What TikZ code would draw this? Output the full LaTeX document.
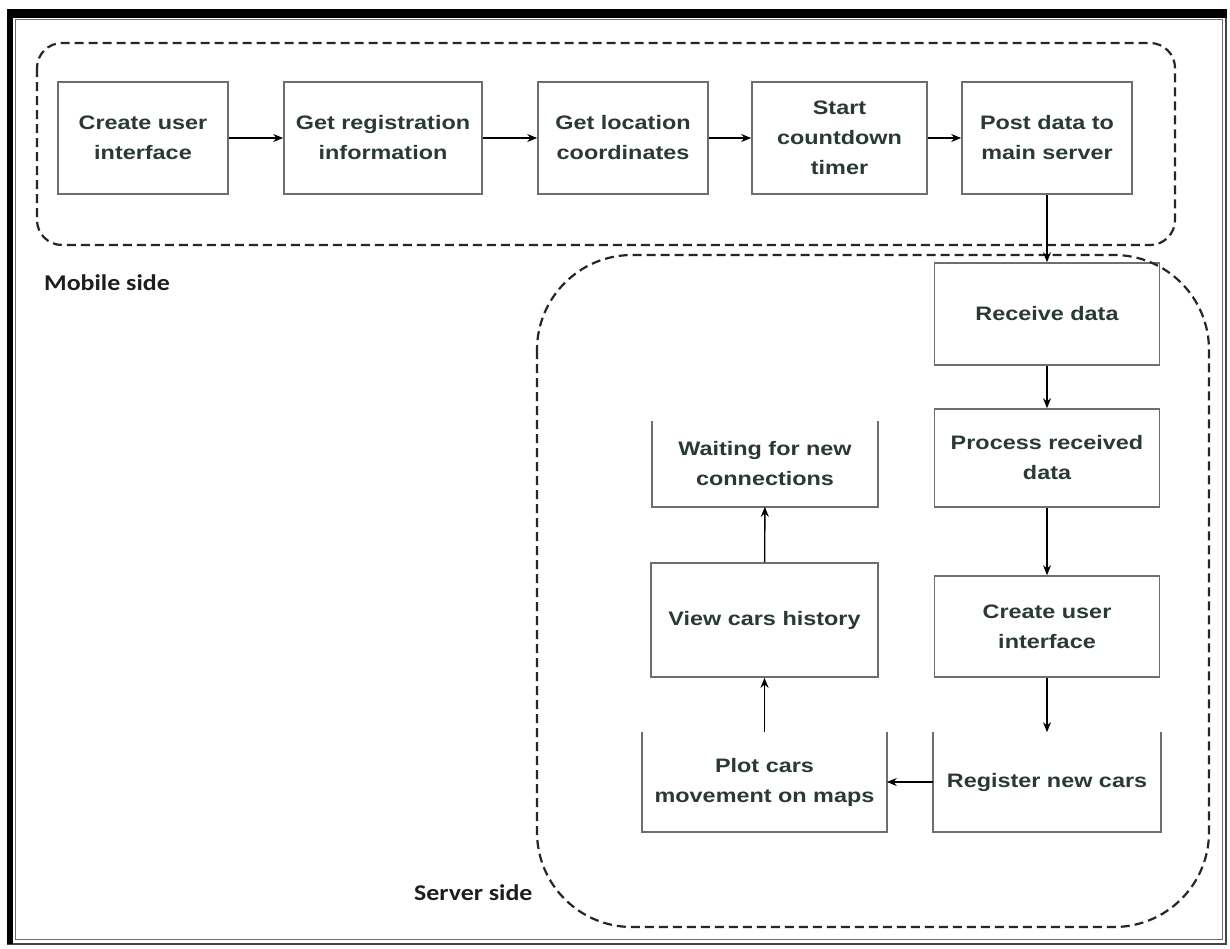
\documentclass[tikz,border=0pt]{standalone}
\usepackage{fontspec}
\setmainfont[FakeStretch=1.2]{Liberation Sans}
\newfontfamily\sidefont[FakeStretch=1.15]{Carlito}
\usetikzlibrary{arrows.meta}

\definecolor{boxline}{RGB}{110,110,110}
\definecolor{boxtext}{RGB}{42,58,50}
\definecolor{sidetext}{RGB}{30,30,30}
\definecolor{frameline}{RGB}{70,70,70}

\tikzset{
  stepbox/.style={draw=boxline, line width=1.6pt, inner sep=0pt, align=center,
    text=boxtext, font=\fontsize{19.5}{30}\selectfont\bfseries},
  openbox/.style={stepbox, draw=none},
  region/.style={draw=black!85, line width=2.2pt, dash pattern=on 9pt off 5pt},
  flow/.style={draw=black, line width=1.4pt, -{Stealth[length=10pt,width=8pt]}},
  sidelabel/.style={font=\sidefont\fontsize{22.5}{25}\selectfont\bfseries,
    text=sidetext, inner sep=0pt, anchor=west},
}

\begin{document}
\begin{tikzpicture}[x=1pt,y=-1pt]
\useasboundingbox (0,0) rectangle (1230,948);

% page frame: heavy top and left rule, thinner right and bottom, inner hairline
\fill[white] (0,0) rectangle (1230,948);
\draw[frameline, line width=2pt] (8,10) rectangle (1226,944);
\fill[black] (7,9) rectangle (1227,18);
\fill[black] (7,9) rectangle (13,944);
\draw[boxline, line width=1pt] (15,19) rectangle (1222,939);

% mobile steps
\node[stepbox, minimum width=170pt, minimum height=112pt] (m1) at (143,138) {Create user\\interface};
\node[stepbox, minimum width=198pt, minimum height=112pt] (m2) at (383,138) {Get registration\\information};
\node[stepbox, minimum width=170pt, minimum height=112pt] (m3) at (623,138) {Get location\\coordinates};
\node[stepbox, minimum width=175pt, minimum height=112pt] (m4) at (839.5,138) {Start\\countdown\\timer};
\node[stepbox, minimum width=170pt, minimum height=112pt] (m5) at (1047,138) {Post data to\\main server};

% server steps, right column
\node[stepbox, minimum width=225pt, minimum height=102pt] (r1) at (1047,314) {Receive data};
\node[stepbox, minimum width=225pt, minimum height=98pt] (r2) at (1047,458) {Process received\\data};
\node[stepbox, minimum width=225pt, minimum height=101pt] (r3) at (1047,626.5) {Create user\\interface};
\node[openbox, minimum width=226pt, minimum height=98pt] (r4) at (1047,782) {Register new cars};

% server steps, left column
\node[openbox, minimum width=224pt, minimum height=84pt] (l1) at (765,464) {Waiting for new\\connections};
\node[stepbox, minimum width=227pt, minimum height=114pt] (l2) at (764.5,620) {View cars history};
\node[openbox, minimum width=243pt, minimum height=98pt] (l3) at (764.5,782) {Plot cars\\movement on maps};

% boxes drawn without a top edge
\foreach \b in {r4,l1,l3}
  \draw[boxline, line width=1.6pt] (\b.north west) -- (\b.south west) -- (\b.south east) -- (\b.north east);

% grouping regions
\draw[region, rounded corners=25pt] (37,43) rectangle (1175,245);
\draw[region, rounded corners=95pt] (537,255) rectangle (1209,927);

\node[sidelabel] (mobile) at (44,283) {Mobile side};
\node[sidelabel] (server) at (414,893) {Server side};

% connectors
\draw[flow] (m1) -- (m2);
\draw[flow] (m2) -- (m3);
\draw[flow] (m3) -- (m4);
\draw[flow] (m4) -- (m5);
\draw[flow] (m5) -- (r1);
\draw[flow] (r1) -- (r2);
\draw[flow] (r2) -- (r3);
\draw[flow] (r3) -- (r4);
\draw[flow] (r4) -- (l3);
\draw[flow] (l3) -- (l2);
\draw[flow] (l2) -- (l1);
\end{tikzpicture}
\end{document}
